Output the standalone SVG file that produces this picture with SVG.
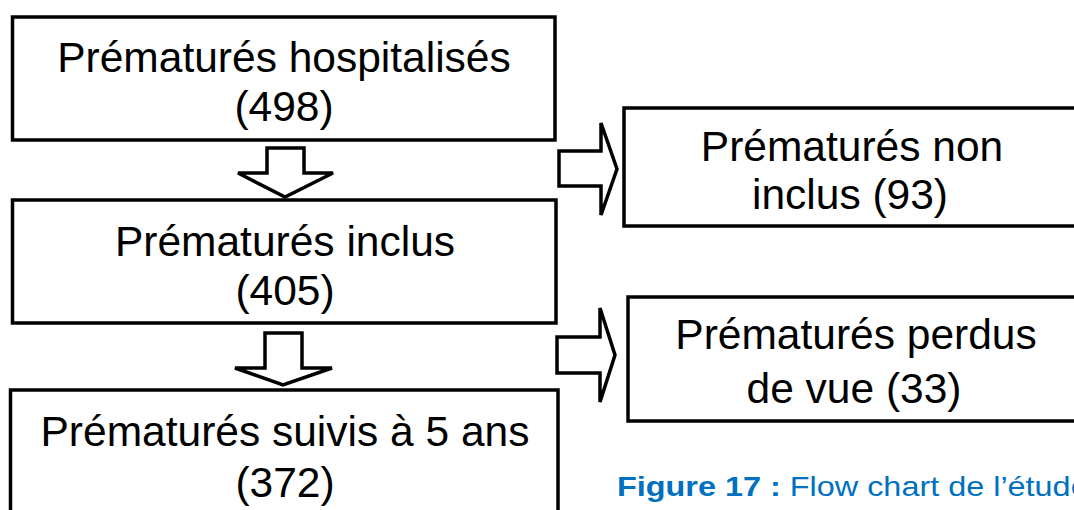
<svg xmlns="http://www.w3.org/2000/svg" width="1074" height="510" viewBox="0 0 1074 510">
<style>
.box{fill:#fff;stroke:#000;stroke-width:3.5}
.arr{fill:#fff;stroke:#000;stroke-width:3.5;stroke-linejoin:miter}
.t{font-family:"Liberation Sans",Arial,sans-serif;font-size:42.5px;fill:#000;text-anchor:middle}
.cap{font-family:"Liberation Sans",Arial,sans-serif;font-size:27px;fill:#0070C0}
</style>
<rect width="1074" height="510" fill="#fff"/>
<g id="connectors">
<polygon class="arr" points="267,148 304,148 304,173 333,173 285,197 238,173 267,173"/>
<polygon class="arr" points="265,333 302,333 302,368 332,368 283,385 235,368 265,368"/>
<polygon class="arr" points="559,151 601,151 601,123 617,169 601,215 601,186 559,186"/>
<polygon class="arr" points="557,337 600,337 600,308 615,355 600,402 600,373 557,373"/>
</g>
<g id="n1">
<rect class="box" x="12.5" y="17" width="542.5" height="123"/>
<text class="t" x="284" y="72">Prématurés hospitalisés</text>
<text class="t" x="284" y="121">(498)</text>
</g>
<g id="n2">
<rect class="box" x="12.5" y="200" width="543.5" height="123"/>
<text class="t" x="285" y="256">Prématurés inclus</text>
<text class="t" x="285" y="305">(405)</text>
</g>
<g id="n3">
<rect class="box" x="10.5" y="390" width="547.5" height="130"/>
<text class="t" x="285" y="446">Prématurés suivis à 5 ans</text>
<text class="t" x="285" y="497">(372)</text>
</g>
<g id="n4">
<rect class="box" x="624" y="108" width="460" height="118"/>
<text class="t" x="852" y="161">Prématurés non</text>
<text class="t" x="850" y="209">inclus (93)</text>
</g>
<g id="n5">
<rect class="box" x="628" y="297" width="456" height="124"/>
<text class="t" x="856" y="349">Prématurés perdus</text>
<text class="t" x="854" y="403">de vue (33)</text>
</g>
<g id="caption">
<text class="cap" transform="translate(617,496) scale(1.2,1)"><tspan font-weight="bold">Figure 17 :</tspan> Flow chart de l’étude</text>
</g>
</svg>
